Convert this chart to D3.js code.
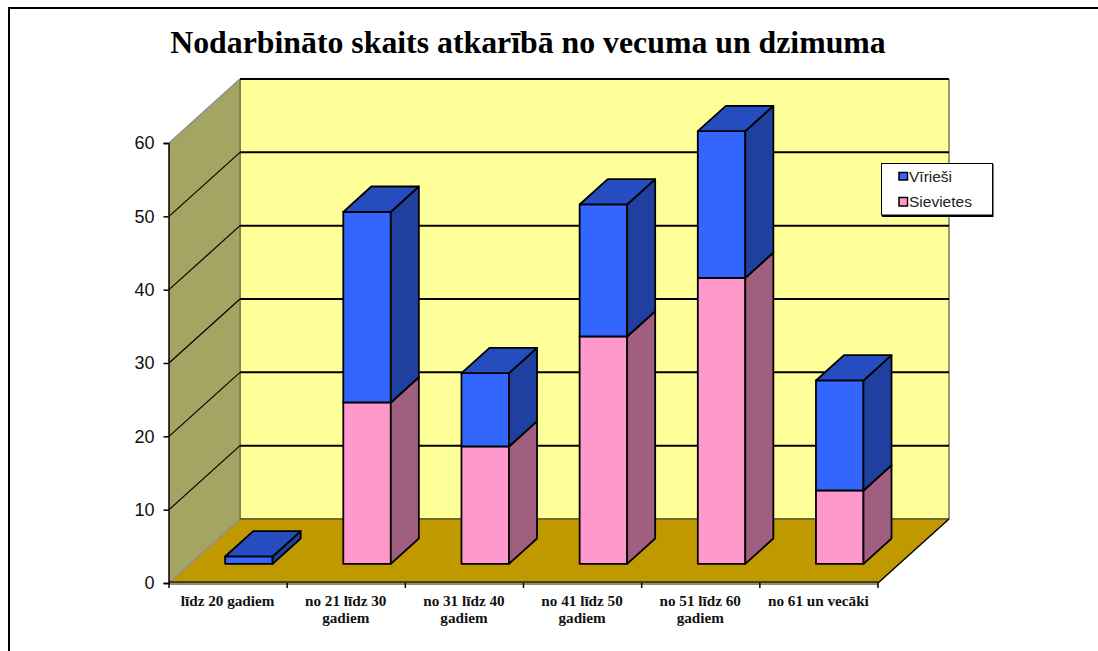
<!DOCTYPE html>
<html lang="lv">
<head>
    <meta charset="UTF-8">
    <title>Nodarbināto skaits</title>
    <script src="https://cdn.jsdelivr.net/npm/d3@7"></script>
    <style>
        * { box-sizing: border-box; }
        html, body { margin: 0; padding: 0; background: #fff; overflow: hidden; }
        svg { display: block; }
    </style>
</head>
<body>
    <svg id="svg1" width="1098" height="651"></svg>
    <script>
        const titleText = "Nodarbināto skaits atkarībā no vecuma un dzimuma";
        const categories = [
            ["līdz 20 gadiem"],
            ["no 21 līdz 30", "gadiem"],
            ["no 31 līdz 40", "gadiem"],
            ["no 41 līdz 50", "gadiem"],
            ["no 51 līdz 60", "gadiem"],
            ["no 61 un vecāki"]
        ];
        const sievietes = [0, 22, 16, 31, 39, 10];
        const virieshi = [1, 26, 10, 18, 20, 15];
        const yTicks = [0, 10, 20, 30, 40, 50, 60];

        const svg = d3.select("#svg1");

        const x = d3.scaleBand().domain(d3.range(categories.length)).range([169, 878]);
        const y = d3.scaleLinear().domain([0, 60]).range([583, 143]);
        // depth: 0 is the front edge of the floor, 1 the back wall
        const depthX = d3.scaleLinear().domain([0, 1]).range([0, 71]);
        const depthY = d3.scaleLinear().domain([0, 1]).range([0, -64]);
        const barFront = 0.3, barBack = 0.695;
        const barWidth = 47.5;

        function pt(px, v, d) {
            return [px + depthX(d), y(v) + depthY(d)];
        }
        function poly(points, fill, stroke, sw) {
            return svg.append("polygon")
                .attr("points", points.map(p => p.join(",")).join(" "))
                .attr("fill", fill)
                .attr("stroke", stroke || "none")
                .attr("stroke-width", sw || 0)
                .attr("stroke-linejoin", "round");
        }
        function line(a, b, stroke, sw) {
            return svg.append("line")
                .attr("x1", a[0]).attr("y1", a[1])
                .attr("x2", b[0]).attr("y2", b[1])
                .attr("stroke", stroke).attr("stroke-width", sw);
        }

        const x0 = x.range()[0], x1 = x.range()[1];

        // outer frame, runs off the right and bottom of the picture
        svg.append("rect")
            .attr("x", 9).attr("y", 8)
            .attr("width", 1200).attr("height", 800)
            .attr("fill", "none").attr("stroke", "#000").attr("stroke-width", 2);

        svg.append("text")
            .attr("x", 528).attr("y", 53)
            .attr("text-anchor", "middle")
            .attr("font-family", "'Liberation Serif'")
            .attr("font-weight", "bold")
            .attr("font-size", 31.8)
            .attr("fill", "#000")
            .text(titleText);

        // back wall
        poly([pt(x0, 0, 1), pt(x1, 0, 1), pt(x1, 60, 1), pt(x0, 60, 1)], "#FFFF99");
        // left wall
        poly([pt(x0, 0, 0), pt(x0, 0, 1), pt(x0, 60, 1), pt(x0, 60, 0)], "#A5A563");
        // floor
        poly([pt(x0, 0, 0), pt(x1, 0, 0), pt(x1, 0, 1), pt(x0, 0, 1)], "#C09900");

        // wall edges
        line(pt(x0, 60, 0), pt(x0, 60, 1), "#8e8e8e", 1.5);
        line(pt(x0, 0, 1), pt(x0, 60, 1), "#84844f", 2);
        line(pt(x1, 0, 1), pt(x1, 60, 1), "#999977", 2);
        line(pt(x0, 0, 0), pt(x0, 0, 1), "#8e8e8e", 1.5);
        line(pt(x0, 0, 1), pt(x1, 0, 1), "#6f6a30", 2);
        line(pt(x0, 60, 1), pt(x1, 60, 1), "#000", 2);

        // gridlines
        yTicks.filter(t => t > 0 && t < 60).forEach(t => {
            line(pt(x1, t, 1), pt(x0, t, 1), "#000", 2);
            line(pt(x0, t, 1), pt(x0, t, 0), "#000", 1.2);
        });

        // floor front edges
        svg.append("rect")
            .attr("x", x0).attr("y", y(0) - 0.5)
            .attr("width", x1 - x0).attr("height", 2.5)
            .attr("fill", "#8a8a8a");
        line([x0, y(0) - 1], [x1, y(0) - 1], "#4d4100", 2);
        line(pt(x1, 0, 0), pt(x1, 0, 1), "#000", 1.5);

        // y axis
        const yAxisG = svg.append("g").attr("transform", `translate(${x0 - 0.5},0)`)
            .call(d3.axisLeft(y).tickValues(yTicks).tickSize(5).tickPadding(9));
        yAxisG.select(".domain").attr("stroke", "#000").attr("stroke-width", 1.5);
        yAxisG.selectAll(".tick line").attr("stroke", "#000").attr("stroke-width", 1.5);
        yAxisG.selectAll("text")
            .attr("font-family", "'Liberation Sans'")
            .attr("font-size", 18)
            .attr("fill", "#111");

        // x axis ticks
        const tickPositions = d3.range(categories.length + 1).map(i => i < categories.length ? x(i) : x1);
        svg.append("g").selectAll("line").data(tickPositions).join("line")
            .attr("x1", d => d).attr("x2", d => d)
            .attr("y1", y(0)).attr("y2", y(0) + 5)
            .attr("stroke", "#000").attr("stroke-width", 1.5);

        // x labels
        categories.forEach((lines, i) => {
            const t = svg.append("text")
                .attr("text-anchor", "middle")
                .attr("font-family", "'Liberation Serif'")
                .attr("font-weight", "bold")
                .attr("font-size", 15.2)
                .attr("fill", "#111");
            lines.forEach((l, k) => {
                t.append("tspan")
                    .attr("x", x(i) + x.bandwidth() / 2 - 0.5)
                    .attr("y", 606 + k * 17)
                    .text(l);
            });
        });

        // stacked 3d bars
        const blue = { front: "#3366FF", top: "#264DBF", side: "#2040A0" };
        const pink = { front: "#FF99CC", top: "#BF7399", side: "#A05F80" };

        function box(left, v0, v1, c) {
            if (v1 <= v0) return;
            const right = left + barWidth;
            poly([pt(left, v0, barFront), pt(right, v0, barFront), pt(right, v1, barFront), pt(left, v1, barFront)], c.front, "#000", 1.8);
            poly([pt(right, v0, barFront), pt(right, v0, barBack), pt(right, v1, barBack), pt(right, v1, barFront)], c.side, "#000", 1.8);
            poly([pt(left, v1, barFront), pt(right, v1, barFront), pt(right, v1, barBack), pt(left, v1, barBack)], c.top, "#000", 1.8);
        }

        categories.forEach((c, i) => {
            const left = x(i) + (x.bandwidth() - barWidth) / 2 - 0.5;
            box(left, 0, sievietes[i], pink);
            box(left, sievietes[i], sievietes[i] + virieshi[i], blue);
        });

        // legend
        const legendItems = [["Vīrieši", blue.front], ["Sievietes", pink.front]];
        const lg = svg.append("g");
        lg.append("rect").attr("x", 882).attr("y", 164).attr("width", 111.5).attr("height", 53).attr("fill", "#000");
        lg.append("rect").attr("x", 881.5).attr("y", 163.5).attr("width", 111).attr("height", 51.5)
            .attr("fill", "#fff").attr("stroke", "#000").attr("stroke-width", 1);
        legendItems.forEach((it, i) => {
            lg.append("rect")
                .attr("x", 899).attr("y", 172.5 + i * 25)
                .attr("width", 8.5).attr("height", 7.5 + i)
                .attr("fill", it[1]).attr("stroke", "#000").attr("stroke-width", 1.5);
            lg.append("text")
                .attr("x", 909).attr("y", 181.5 + i * 25)
                .attr("font-family", "'Liberation Sans'")
                .attr("font-size", 15.5)
                .attr("fill", "#222")
                .text(it[0]);
        });
    </script>
</body>
</html>
